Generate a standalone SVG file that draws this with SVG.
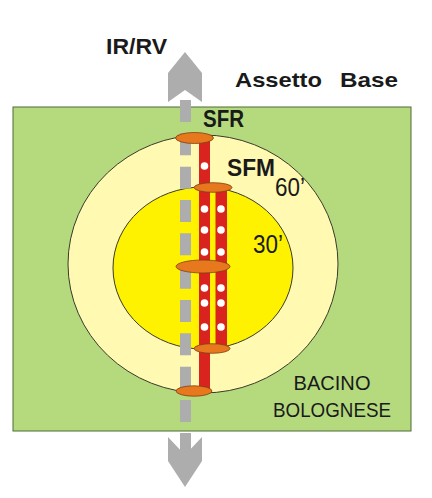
<svg xmlns="http://www.w3.org/2000/svg" width="432" height="498" viewBox="0 0 432 498">
  <defs>
    <style>
      .lbl { font-family: "Liberation Sans", Arial, sans-serif; fill: #1a1a1a; }
      .b { font-weight: bold; }
      .stn { fill: #E8781E; stroke: #7a4310; stroke-width: 0.8; }
      .dot { fill: #ffffff; }
      .red { fill: #D9231E; }
      .gray { fill: #ADADAD; }
    </style>
  </defs>
  <rect width="432" height="498" fill="#ffffff"/>

  <g id="basin">
    <rect x="13" y="107" width="398" height="324" fill="#B5DA7E" stroke="#4f6b3a" stroke-width="1"/>
    <text class="lbl" x="332" y="390" font-size="21" text-anchor="middle" textLength="77" lengthAdjust="spacingAndGlyphs">BACINO</text>
    <text class="lbl" x="332" y="417" font-size="21" text-anchor="middle" textLength="118" lengthAdjust="spacingAndGlyphs">BOLOGNESE</text>
  </g>

  <g id="ring60">
    <ellipse cx="203" cy="264" rx="135" ry="129" fill="#FFF9B2" stroke="#3a3a2a" stroke-width="1"/>
    <text class="lbl" x="275" y="196" font-size="25" textLength="30" lengthAdjust="spacingAndGlyphs">60’</text>
  </g>

  <g id="ring30">
    <ellipse cx="203" cy="268" rx="90" ry="81" fill="#FFF200" stroke="#3a3a2a" stroke-width="1"/>
    <text class="lbl" x="253" y="253" font-size="25" textLength="30" lengthAdjust="spacingAndGlyphs">30’</text>
  </g>

  <g id="connectors">
    <g id="ir-rv">
      <polygon class="gray" points="185,52 202,73 202,102 185,90 168,102 168,73"/>
      <line x1="185.5" y1="100" x2="185.5" y2="455" stroke="#ADADAD" stroke-width="11" stroke-dasharray="22 11.33"/>
      <polygon class="gray" points="168,437 185,455 202,437 202,461 185,487 168,461"/>
      <rect class="gray" x="180" y="433" width="11" height="20"/>
    </g>
    <g id="sfr-line">
      <rect class="red" x="199" y="138" width="11" height="253"/>
    </g>
    <g id="sfm-line">
      <rect class="red" x="215.5" y="187" width="11.5" height="161"/>
    </g>
    <g id="stops">
      <circle class="dot" cx="204.5" cy="166" r="3.8"/>
      <circle class="dot" cx="204.5" cy="209" r="3.8"/>
      <circle class="dot" cx="204.5" cy="230" r="3.8"/>
      <circle class="dot" cx="204.5" cy="252" r="3.8"/>
      <circle class="dot" cx="204.5" cy="288" r="3.8"/>
      <circle class="dot" cx="204.5" cy="303" r="3.8"/>
      <circle class="dot" cx="204.5" cy="327" r="3.8"/>
      <circle class="dot" cx="221" cy="209" r="3.8"/>
      <circle class="dot" cx="221" cy="230" r="3.8"/>
      <circle class="dot" cx="221" cy="252" r="3.8"/>
      <circle class="dot" cx="221" cy="288" r="3.8"/>
      <circle class="dot" cx="221" cy="303" r="3.8"/>
      <circle class="dot" cx="221" cy="327" r="3.8"/>
    </g>
  </g>

  <g id="station-top">
    <ellipse class="stn" cx="194.5" cy="138" rx="19" ry="5.5"/>
  </g>
  <g id="station-sfm-top">
    <ellipse class="stn" cx="213" cy="187.5" rx="19" ry="4.8"/>
  </g>
  <g id="station-center">
    <ellipse class="stn" cx="203" cy="266.5" rx="27" ry="6.5"/>
  </g>
  <g id="station-sfm-bottom">
    <ellipse class="stn" cx="212" cy="348.5" rx="18" ry="4.8"/>
  </g>
  <g id="station-bottom">
    <ellipse class="stn" cx="194" cy="391" rx="18" ry="5.2"/>
  </g>

  <g id="labels">
    <text class="lbl b" x="106" y="54" font-size="22" textLength="61" lengthAdjust="spacingAndGlyphs">IR/RV</text>
    <text class="lbl b" x="235" y="87" font-size="21"><tspan textLength="87" lengthAdjust="spacingAndGlyphs">Assetto</tspan> <tspan x="340" textLength="58" lengthAdjust="spacingAndGlyphs">Base</tspan></text>
    <text class="lbl b" x="203" y="127" font-size="23" textLength="41" lengthAdjust="spacingAndGlyphs">SFR</text>
    <text class="lbl b" x="227" y="176" font-size="23" textLength="48" lengthAdjust="spacingAndGlyphs">SFM</text>
  </g>
</svg>
